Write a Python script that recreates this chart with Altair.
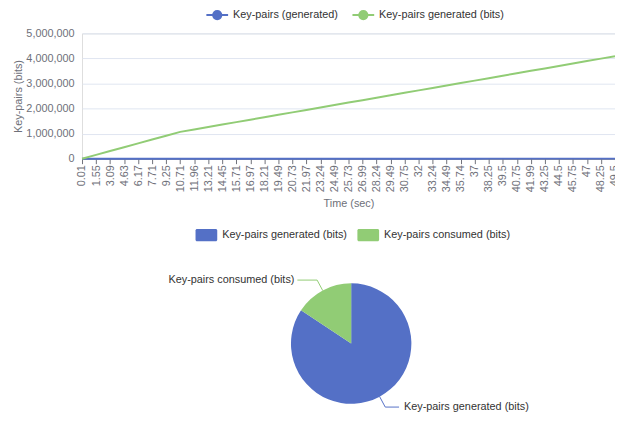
import math
import altair as alt
import pandas as pd

FONT = "Liberation Sans"
BLUE = "#5470c6"
GREEN = "#91cc75"
AXIS_GREY = "#6e7079"

# ---------------- data ----------------
time_labels = ["0.01", "1.55", "3.09", "4.63", "6.17", "7.71", "9.25", "10.71", "11.96",
               "13.21", "14.45", "15.71", "16.97", "18.21", "19.49", "20.73", "21.97",
               "23.24", "24.49", "25.73", "26.99", "28.24", "29.49", "30.75", "32",
               "33.24", "34.49", "35.74", "37", "38.25", "39.5", "40.75", "41.99",
               "43.25", "44.5", "45.75", "47", "48.25", "49.5"]

keypairs_count = [0, 150, 299, 448, 598, 747, 896, 1045, 1140, 1236, 1330, 1426, 1520,
                  1615, 1711, 1806, 1901, 1996, 2091, 2187, 2281, 2377, 2472, 2566,
                  2662, 2757, 2852, 2947, 3042, 3138, 3232, 3328, 3423, 3518, 3613,
                  3708, 3804, 3898, 3993]

keypairs_bits = [0, 153000, 306000, 459000, 612000, 765000, 918000, 1070000, 1167000,
                 1265000, 1362000, 1460000, 1557000, 1654000, 1752000, 1849000, 1947000,
                 2044000, 2141000, 2239000, 2336000, 2434000, 2531000, 2628000, 2726000,
                 2823000, 2921000, 3018000, 3115000, 3213000, 3310000, 3408000, 3505000,
                 3602000, 3700000, 3797000, 3895000, 3992000, 4089000]

line_series = ["Key-pairs (generated)", "Key-pairs generated (bits)"]
y_ticks = [0, 1000000, 2000000, 3000000, 4000000, 5000000]

pie_labels = ["Key-pairs generated (bits)", "Key-pairs consumed (bits)"]
pie_values = [4089000, 760000]

# ---------------- layout (pixels, relative to plot area) ----------------
W, H = 540, 127
CX, CY, R = 272.7, 314.3, 61
LEAD1 = 12
LEAD2 = {1: 14, -1: 20}
TXT_GAP = {1: 5, -1: 3}

line_df = pd.DataFrame({
    "time": time_labels * 2,
    "series": [line_series[0]] * len(time_labels) + [line_series[1]] * len(time_labels),
    "value": keypairs_count + keypairs_bits,
})

pie_df = pd.DataFrame({"label": pie_labels, "value": pie_values, "idx": list(range(len(pie_labels)))})

# leader lines & label anchors derived from slice angles
total = sum(pie_values)
lead_rows, text_rows = [], []
cum = 0.0
for lab, v in zip(pie_labels, pie_values):
    mid = (cum + v / 2) / total * 2 * math.pi
    cum += v
    sx, sy = math.sin(mid), -math.cos(mid)
    ex, ey = CX + R * sx, CY + R * sy
    bx, by = CX + (R + LEAD1) * sx, CY + (R + LEAD1) * sy
    side = 1 if sx >= 0 else -1
    hx = bx + side * LEAD2[side]
    for seq, (px, py) in enumerate([(ex, ey), (bx, by), (hx, by)]):
        lead_rows.append({"label": lab, "seq": seq, "px": px, "py": py})
    text_rows.append({"label": lab, "px": hx + side * TXT_GAP[side], "py": by,
                      "side": "right" if side > 0 else "left"})
lead_df = pd.DataFrame(lead_rows)
text_df = pd.DataFrame(text_rows)

# ---------------- legend symbols ----------------
LINE_SYMBOL = ("M-1,0L1,0"
               "M-0.38,0A0.38,0.38,0,1,0,0.38,0A0.38,0.38,0,1,0,-0.38,0"
               "M-0.24,0A0.24,0.24,0,1,0,0.24,0A0.24,0.24,0,1,0,-0.24,0"
               "M-0.1,0A0.1,0.1,0,1,0,0.1,0A0.1,0.1,0,1,0,-0.1,0")
RECT_SYMBOL = ("M-0.86,-0.56L0.86,-0.56A0.14,0.14,0,0,1,1,-0.42L1,0.42"
               "A0.14,0.14,0,0,1,0.86,0.56L-0.86,0.56A0.14,0.14,0,0,1,-1,0.42"
               "L-1,-0.42A0.14,0.14,0,0,1,-0.86,-0.56Z")

line_scale = alt.Scale(domain=line_series, range=[BLUE, GREEN])
pie_scale = alt.Scale(domain=pie_labels, range=[BLUE, GREEN])

px_x = alt.X("px:Q", scale=alt.Scale(domain=[0, W], nice=False, zero=False), axis=None)
px_y = alt.Y("py:Q", scale=alt.Scale(domain=[0, H], reverse=True, nice=False, zero=False), axis=None)

# ---------------- line chart ----------------
lines = alt.Chart(line_df).mark_line(strokeWidth=2).encode(
    x=alt.X("time:O", sort=time_labels,
            scale=alt.Scale(type="point", padding=0),
            axis=alt.Axis(title="Time (sec)", labelAngle=270, labelFontSize=11,
                          labelColor=AXIS_GREY, labelFont=FONT, labelPadding=1,
                          labelOverlap=False, tickColor=AXIS_GREY, tickSize=5,
                          domainColor=AXIS_GREY, grid=False, titleFontSize=11,
                          titleColor=AXIS_GREY, titleFont=FONT, titleFontWeight="normal",
                          titlePadding=6)),
    y=alt.Y("value:Q", scale=alt.Scale(domain=[0, 5000000], nice=False),
            axis=alt.Axis(title="Key-pairs (bits)", values=y_ticks, format=",d",
                          labelFontSize=11, labelColor=AXIS_GREY, labelFont=FONT,
                          labelPadding=8, ticks=False, domain=False, labelFlush=False,
                          gridColor="#e0e6f1", gridWidth=1, titleFontSize=11,
                          titleColor=AXIS_GREY, titleFont=FONT, titleFontWeight="normal",
                          titlePadding=2)),
    color=alt.Color("series:N", scale=line_scale,
                    legend=alt.Legend(title=None, orient="none", legendX=125, legendY=-31,
                                      direction="horizontal", columns=2,
                                      symbolType=LINE_SYMBOL, symbolSize=484,
                                      symbolStrokeWidth=2, labelOffset=4, columnPadding=10,
                                      labelFontSize=11, labelColor="#333", labelFont=FONT,
                                      padding=0)),
    detail="series:N",
)

# ---------------- pie ----------------
arc = alt.Chart(pie_df).mark_arc(outerRadius=R).encode(
    theta=alt.Theta("value:Q", stack=True),
    order=alt.Order("idx:Q"),
    color=alt.Color("label:N", scale=pie_scale,
                    legend=alt.Legend(title=None, orient="none", legendX=115, legendY=193,
                                      direction="horizontal", columns=2,
                                      symbolType=RECT_SYMBOL, symbolSize=484,
                                      symbolStrokeWidth=0, labelOffset=5, columnPadding=10,
                                      labelFontSize=11, labelColor="#333", labelFont=FONT,
                                      padding=0)),
    x=alt.value(CX),
    y=alt.value(CY),
)

leaders = alt.Chart(lead_df).mark_line(strokeWidth=1).encode(
    x=px_x, y=px_y,
    color=alt.Color("label:N", scale=pie_scale, legend=None),
    order="seq:Q",
    detail="label:N",
)

text_right = alt.Chart(text_df).transform_filter(alt.datum.side == "right").mark_text(
    align="left", baseline="middle", fontSize=11, font=FONT, color="#333"
).encode(x=px_x, y=px_y, text="label:N")

text_left = alt.Chart(text_df).transform_filter(alt.datum.side == "left").mark_text(
    align="right", baseline="middle", fontSize=11, font=FONT, color="#333"
).encode(x=px_x, y=px_y, text="label:N")

chart = alt.layer(lines, arc, leaders, text_right, text_left).resolve_scale(
    x="independent", y="independent", color="independent"
).properties(
    width=W, height=H,
    padding={"left": 75, "top": 23, "right": 0, "bottom": 260},
    autosize=alt.AutoSizeParams(type="none"),
    background="white",
).configure_view(stroke=None).configure(font=FONT)

chart.save("out.html", embed_options={"renderer": "svg", "actions": False})
